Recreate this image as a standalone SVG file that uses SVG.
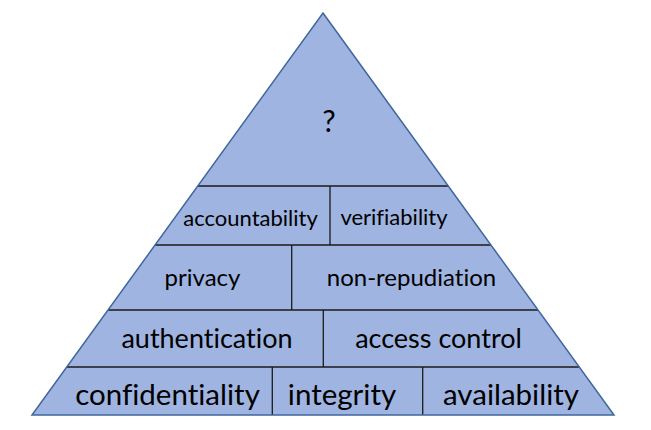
<svg xmlns="http://www.w3.org/2000/svg" width="651" height="430" viewBox="0 0 651 430">
<style>
.cell{fill:#9fb4e0;stroke:none}
.div{stroke:#1a1a1a;stroke-width:1.3;fill:none}
.edge{stroke:#3f669e;stroke-width:1.5;fill:none;stroke-linejoin:miter}
text{font-family:Lato,"Open Sans","Liberation Sans",sans-serif;fill:#000;text-anchor:middle;font-variant-ligatures:none;font-feature-settings:"liga" 0}
.r1{font-size:22px}.r2{font-size:24px}.r3{font-size:27px}.r4{font-size:29.5px}
</style>
<rect width="651" height="430" fill="#ffffff"/>
<g id="top"><polygon class="cell" points="323,13 448.2,186 197.8,186"/><text x="329" y="132" font-size="30">?</text></g>
<g id="accountability"><polygon class="cell" points="197.8,186 330,186 330,245 155.1,245"/><text class="r1" x="250.5" y="226">accountability</text></g>
<g id="verifiability"><polygon class="cell" points="330,186 448.2,186 490.9,245 330,245"/><text class="r1" x="394" y="225">verifiability</text></g>
<g id="privacy"><polygon class="cell" points="155.1,245 291.7,245 291.7,310 108,310"/><text class="r2" x="202.5" y="286">privacy</text></g>
<g id="non-repudiation"><polygon class="cell" points="291.7,245 490.9,245 538,310 291.7,310"/><text class="r2" x="411.5" y="286">non-repudiation</text></g>
<g id="authentication"><polygon class="cell" points="108,310 323.3,310 323.3,367 66.7,367"/><text class="r3" x="207" y="348">authentication</text></g>
<g id="access-control"><polygon class="cell" points="323.3,310 538,310 579.3,367 323.3,367"/><text class="r3" x="438.5" y="348">access control</text></g>
<g id="confidentiality"><polygon class="cell" points="66.7,367 272.3,367 272.3,415 32,415"/><text class="r4" x="167.5" y="405">confidentiality</text></g>
<g id="integrity"><polygon class="cell" points="272.3,367 422.7,367 422.7,415 272.3,415"/><text class="r4" x="342" y="405">integrity</text></g>
<g id="availability"><polygon class="cell" points="422.7,367 579.3,367 614,415 422.7,415"/><text class="r4" x="511" y="405">availability</text></g>
<g id="connectors">
<line class="div" x1="197.8" y1="186" x2="448.2" y2="186"/>
<line class="div" x1="155.1" y1="245" x2="490.9" y2="245"/>
<line class="div" x1="108" y1="310" x2="538" y2="310"/>
<line class="div" x1="66.7" y1="367" x2="579.3" y2="367"/>
<line class="div" x1="330" y1="186" x2="330" y2="245"/>
<line class="div" x1="291.7" y1="245" x2="291.7" y2="310"/>
<line class="div" x1="323.3" y1="310" x2="323.3" y2="367"/>
<line class="div" x1="272.3" y1="367" x2="272.3" y2="415"/>
<line class="div" x1="422.7" y1="367" x2="422.7" y2="415"/>
<polygon class="edge" points="323,13 614,415 32,415"/>
</g>
</svg>
